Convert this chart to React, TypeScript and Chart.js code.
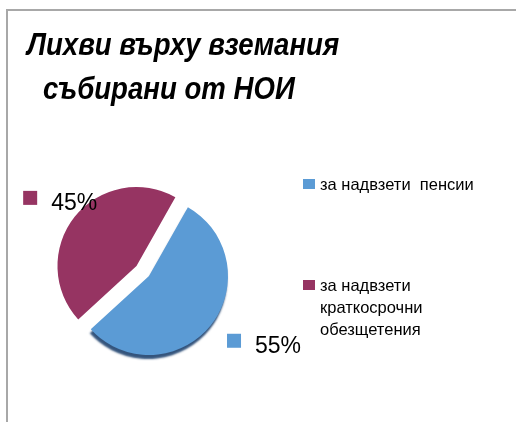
import React, { useEffect, useRef } from "react";
import { Chart, registerables } from "chart.js";

Chart.register(...registerables);

// ---- data ----
const titleLines = ["Лихви върху вземания", "събирани от НОИ"];
const categories = ["за надвзети  пенсии", "за надвзети краткосрочни обезщетения"];
const legendLines = [["за надвзети  пенсии"], ["за надвзети", "краткосрочни", "обезщетения"]];
const values = [55, 45];
const percentLabels = ["55%", "45%"];
const colors = ["#5B9BD5", "#963462"];
const sliceOffsets = [0, 16];

// ---- layout / style ----
const W = 516;
const H = 422;
const FONT = "'Liberation Sans', Arial, sans-serif";
const labelRadius = [1.69, 1.27];
const labelAngleShift = [-8, 2];

// draws the arcs with an explode translation and a 3D-ish shadow on the first slice
const explodePlugin = {
  id: "explode3d",
  beforeDatasetsDraw(chart: any) {
    const ctx = chart.ctx as CanvasRenderingContext2D;
    const meta = chart.getDatasetMeta(0);
    meta.data.forEach((arc: any, i: number) => {
      ctx.save();
      const mid = (arc.startAngle + arc.endAngle) / 2;
      ctx.translate(Math.cos(mid) * sliceOffsets[i], Math.sin(mid) * sliceOffsets[i]);
      if (i === 0) {
        ctx.shadowColor = "rgba(30,65,110,0.9)";
        ctx.shadowBlur = 2;
        ctx.shadowOffsetX = -1;
        ctx.shadowOffsetY = 4;
      }
      arc.draw(ctx, chart.chartArea);
      ctx.restore();
    });
    return false;
  },
};

const decorPlugin = {
  id: "decor",
  afterDraw(chart: any) {
    const ctx = chart.ctx as CanvasRenderingContext2D;
    ctx.save();
    // frame
    ctx.strokeStyle = "#a8a8a8";
    ctx.lineWidth = 2;
    ctx.beginPath();
    ctx.moveTo(7, H);
    ctx.lineTo(7, 10);
    ctx.lineTo(W, 10);
    ctx.stroke();

    // title
    ctx.fillStyle = "#000";
    ctx.textBaseline = "alphabetic";
    ctx.textAlign = "left";
    ctx.font = `italic bold 31px ${FONT}`;
    const titlePos = [
      [27, 55],
      [43, 99],
    ];
    titleLines.forEach((t, i) => {
      ctx.save();
      ctx.translate(titlePos[i][0], titlePos[i][1]);
      ctx.scale(0.89, 1);
      ctx.fillText(t, 0, 0);
      ctx.restore();
    });

    // legend
    ctx.font = `16.5px ${FONT}`;
    const legendBase = [190, 291];
    legendLines.forEach((lines, i) => {
      const b = legendBase[i];
      ctx.fillStyle = colors[i];
      ctx.fillRect(303, b - 11, 12, 10);
      ctx.fillStyle = "#000";
      lines.forEach((ln, j) => ctx.fillText(ln, 320, b + j * 22));
    });

    // data labels
    const meta = chart.getDatasetMeta(0);
    ctx.font = `23px ${FONT}`;
    meta.data.forEach((arc: any, i: number) => {
      const p = arc.getProps(["x", "y", "startAngle", "endAngle", "outerRadius"], true);
      const mid = (p.startAngle + p.endAngle) / 2;
      const cx = p.x + Math.cos(mid) * sliceOffsets[i];
      const cy = p.y + Math.sin(mid) * sliceOffsets[i];
      const a = mid + (labelAngleShift[i] * Math.PI) / 180;
      const lx = cx + Math.cos(a) * p.outerRadius * labelRadius[i];
      const ly = cy + Math.sin(a) * p.outerRadius * labelRadius[i];
      const tw = ctx.measureText(percentLabels[i]).width;
      const bw = 14 + 14 + tw;
      const left = lx - bw / 2;
      const base = ly + 9;
      ctx.fillStyle = colors[i];
      ctx.fillRect(left, base - 19, 14, 14);
      ctx.fillStyle = "#000";
      ctx.fillText(percentLabels[i], left + 28, base);
    });
    ctx.restore();
  },
};

export default function App() {
  const ref = useRef<HTMLCanvasElement>(null);
  useEffect(() => {
    if (!ref.current) return;
    const chart = new Chart(ref.current, {
      type: "pie",
      data: {
        labels: categories,
        datasets: [
          {
            data: values,
            backgroundColor: colors,
            borderWidth: 0,
            offset: 0,
            hoverOffset: 0,
          },
        ],
      },
      options: {
        animation: false,
        responsive: false,
        devicePixelRatio: 1,
        rotation: 29.5,
        radius: 79,
        layout: { padding: { left: 49, right: 267, top: 176, bottom: 46 } },
        events: [],
        plugins: {
          legend: { display: false },
          title: { display: false },
          tooltip: { enabled: false },
        },
      } as any,
      plugins: [explodePlugin, decorPlugin],
    });
    return () => chart.destroy();
  }, []);
  return (
    <div style={{ position: "fixed", left: 0, top: 0, width: W, height: H, background: "#fff" }}>
      <canvas ref={ref} width={W} height={H} style={{ display: "block", width: W, height: H }} />
    </div>
  );
}
